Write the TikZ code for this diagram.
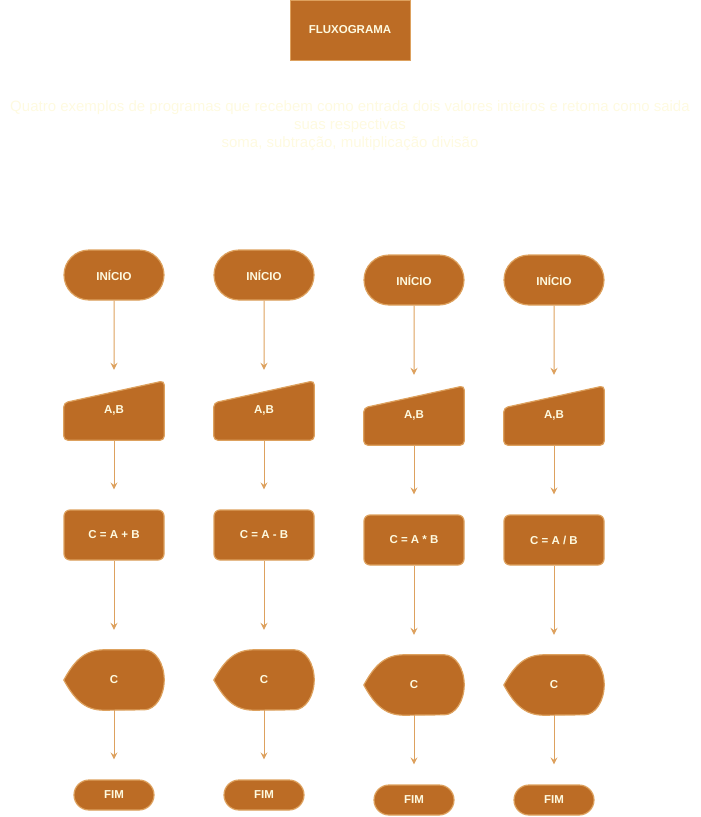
\documentclass[tikz,border=0pt]{standalone}
\usepackage{fontspec}
\setmainfont{Liberation Sans}
\usetikzlibrary{arrows.meta,shapes.misc,backgrounds}

\definecolor{marrom}{HTML}{BC6C25}
\definecolor{borda}{HTML}{DDA15E}
\definecolor{creme}{HTML}{FEFAE0}

\begin{document}
\begin{tikzpicture}[x=1pt, y=1pt,
		forma/.style={fill=marrom, draw=borda, line width=1.2pt},
		rotulo/.style={text=creme, font=\bfseries\fontsize{11.5}{14}\selectfont, inner sep=0pt},
		terminal/.style={rotulo, forma, rounded rectangle, minimum width=100pt, minimum height=50pt},
		fim/.style={terminal, minimum width=80pt, minimum height=30pt},
		processo/.style={rotulo, forma, rectangle, rounded corners=6pt, minimum width=100pt, minimum height=50pt},
		caixa/.style={rotulo, rectangle, minimum width=100pt, minimum height=#1},
		fluxo/.style={draw=borda, line width=1pt, -{Stealth[length=7pt, width=7pt, inset=2.5pt]}}]

	\useasboundingbox (0,0) rectangle (701,-817);

	% titulo
	\node[rotulo, forma, rectangle, minimum width=120pt, minimum height=60pt, line width=0.8pt] (titulo) at (350,-30) {FLUXOGRAMA};
	\node[text=creme, font=\fontsize{15}{18}\selectfont, align=center] (descricao) at (350,-126)
		{Quatro exemplos de programas que recebem como entrada dois valores inteiros e retoma como saida\\
		 suas respectivas\\
		 soma, subtração, multiplicação divisão};

	% quatro fluxogramas
	\foreach \x/\dy/\conta/\k in {114/0/{C = A + B}/a, 264/0/{C = A - B}/b, 414/5/{C = A * B}/c, 554/5/{C = A / B}/d}
	{
		\node[terminal] (ini\k) at (\x,-275-\dy) {INÍCIO};
		\node[caixa=59pt] (ent\k) at (\x,-410.5-\dy) {A,B};
		\node[processo] (proc\k) at (\x,-535-\dy) {\conta};
		\node[caixa=60pt] (saida\k) at (\x,-680-\dy) {C};
		\node[fim] (fim\k) at (\x,-795-\dy) {FIM};

		\begin{scope}[on background layer]
			\draw[forma, rounded corners=4pt] ([yshift=-22pt]ent\k.north west) -- (ent\k.north east)
				-- (ent\k.south east) -- (ent\k.south west) -- cycle;
			\draw[forma] (saida\k.west) .. controls +(10,18) and +(-20,0) .. ([xshift=40pt]saida\k.north west)
				-- ([xshift=-20pt]saida\k.north east)
				arc[start angle=90, end angle=-90, x radius=20pt, y radius=30pt]
				-- ([xshift=40pt]saida\k.south west)
				.. controls +(-20,0) and +(10,-18) .. (saida\k.west) -- cycle;
		\end{scope}

		\draw[fluxo, shorten >=11pt] (ini\k) -- (ent\k);
		\draw[fluxo, shorten >=20pt] (ent\k) -- (proc\k);
		\draw[fluxo, shorten >=20pt] (proc\k) -- (saida\k);
		\draw[fluxo, shorten >=20pt] (saida\k) -- (fim\k);
	}

\end{tikzpicture}
\end{document}
